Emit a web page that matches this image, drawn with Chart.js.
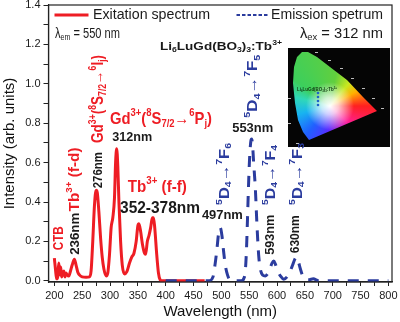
<!DOCTYPE html>
<html>
<head>
<meta charset="utf-8">
<script src="https://cdn.jsdelivr.net/npm/chart.js@4.4.1/dist/chart.umd.min.js"></script>
<style>
  html, body { margin: 0; padding: 0; background: #fff; }
</style>
</head>
<body>
<canvas id="myChart" width="400" height="322"></canvas>
<script>
// excitation spectrum, monitored at 550 nm
var excWavelength = [200, 202, 204, 206, 208, 210, 211.5, 213, 215, 217, 219, 221, 223, 226, 229, 232, 236, 239, 242, 245, 250, 257, 263, 266, 269, 272, 275, 277, 280, 283, 286, 289, 293, 296, 299, 302, 305, 308, 310, 312, 314, 316, 319, 322, 326, 330, 335, 339, 343, 347, 350, 352, 355, 358, 362, 364, 367, 370, 373, 376, 378, 380, 384, 387, 390, 393, 470];
var excIntensity = [0.115, 0.06, 0.01, 0.02, 0.09, 0.03, 0.07, 0.02, 0.035, 0.05, 0.02, 0.04, 0.03, 0.025, 0.05, 0.08, 0.11, 0.08, 0.045, 0.03, 0.02, 0.018, 0.02, 0.05, 0.2, 0.38, 0.46, 0.45, 0.35, 0.22, 0.12, 0.06, 0.025, 0.04, 0.13, 0.27, 0.32, 0.42, 0.6, 0.67, 0.58, 0.4, 0.2, 0.08, 0.035, 0.045, 0.09, 0.12, 0.14, 0.2, 0.28, 0.29, 0.25, 0.19, 0.14, 0.135, 0.2, 0.23, 0.27, 0.32, 0.32, 0.28, 0.13, 0.04, 0.005, 0, 0];

// emission spectrum, excited at 312 nm
var emWavelength = [400, 478, 485, 489, 492, 495, 498, 501, 504, 507, 511, 515, 520, 536, 540, 543, 545, 547, 549, 551, 553, 554.5, 556, 558, 561, 564, 567, 570, 574, 579, 583, 587, 591, 594, 597, 601, 606, 612, 618, 623, 628, 632, 635, 638, 642, 646, 651, 658, 665, 675, 800];
var emIntensity = [0, 0, 0.02, 0.09, 0.16, 0.24, 0.27, 0.23, 0.15, 0.08, 0.03, 0.005, 0, 0, 0.01, 0.05, 0.15, 0.32, 0.5, 0.64, 0.71, 0.72, 0.69, 0.6, 0.47, 0.28, 0.13, 0.06, 0.03, 0.025, 0.035, 0.06, 0.09, 0.1, 0.085, 0.05, 0.025, 0.008, 0.02, 0.045, 0.08, 0.11, 0.12, 0.1, 0.06, 0.025, 0.008, 0.006, 0.01, 0, 0];

// axis ticks (every value gets a tick mark, labels on the round ones)
var xTicks = [200, 225, 250, 275, 300, 325, 350, 375, 400, 425, 450, 475, 500, 525, 550, 575, 600, 625, 650, 675, 700, 725, 750, 775, 800];
var yTicks = [0, 0.1, 0.2, 0.3, 0.4, 0.5, 0.6, 0.7, 0.8, 0.9, 1.0, 1.1, 1.2, 1.3, 1.4];

var RED = '#ee1d24';
var BLUE = '#2b3c9e';
var INK = '#1a1a1a';
var FONT = "'Liberation Sans', Arial, sans-serif";

function toPoints(xs, ys) {
  return xs.map(function (x, i) { return { x: x, y: ys[i] }; });
}

// peak assignments: x in nm, y in intensity units.
// horizontal labels are anchored at their left end, vertical ones at their bottom end.
// size = glyph height, len = length along the text in px
var peakLabels = [
  { text: 'CTB', color: RED, x: 208, y: 0.155, rot: true, size: 14, len: 24 },
  { text: '236nm', color: INK, x: 237.5, y: 0.132, rot: true, size: 13, len: 42 },
  { text: 'Tb^{3+} (f-d)', color: RED, x: 236.5, y: 0.352, rot: true, size: 15, len: 64 },
  { text: '276nm', color: INK, x: 278.5, y: 0.47, rot: true, size: 13, len: 36 },
  { text: 'Gd^{3+}(^{8}S_{7/2}\u2192^{6}I_{j})', color: RED, x: 279.5, y: 0.70, rot: true, size: 16, len: 88 },
  { text: 'Gd^{3+}(^{8}S_{7/2}\u2192^{6}P_{j})', color: RED, x: 300, y: 0.82, size: 17, len: 102 },
  { text: '312nm', color: INK, x: 304, y: 0.73, size: 13, len: 40 },
  { text: 'Tb^{3+} (f-f)', color: RED, x: 332, y: 0.475, size: 17, len: 59 },
  { text: '352-378nm', color: INK, x: 318, y: 0.37, size: 17, len: 80 },
  { text: '497nm', color: INK, x: 465, y: 0.33, size: 13, len: 41 },
  { text: '^{5}D_{4}\u2192^{7}F_{6}', color: BLUE, x: 506, y: 0.385, rot: true, size: 15, len: 62 },
  { text: '553nm', color: INK, x: 519.5, y: 0.775, size: 13, len: 41 },
  { text: '^{5}D_{4}\u2192^{7}F_{5}', color: BLUE, x: 557, y: 0.828, rot: true, size: 15, len: 63 },
  { text: '^{5}D_{4}\u2192^{7}F_{4}', color: BLUE, x: 589, y: 0.385, rot: true, size: 15, len: 60 },
  { text: '593nm', color: INK, x: 588, y: 0.132, rot: true, size: 13, len: 40 },
  { text: '^{5}D_{4}\u2192^{7}F_{3}', color: BLUE, x: 637, y: 0.385, rot: true, size: 15, len: 62 },
  { text: '630nm', color: INK, x: 633, y: 0.14, rot: true, size: 13, len: 38 }
];

// "Gd^{3+}" -> [{t:'Gd', m:''}, {t:'3+', m:'^'}]
function parseRich(str) {
  var segs = [], re = /([\^_])\{([^}]*)\}|([^\^_]+)/g, m;
  while ((m = re.exec(str))) {
    if (m[1]) segs.push({ t: m[2], m: m[1] });
    else segs.push({ t: m[3], m: '' });
  }
  return segs;
}

function drawRich(ctx, str, x, y, o) {
  var segs = parseRich(str);
  var weight = o.bold === false ? '' : 'bold ';
  var total = 0;
  segs.forEach(function (s) {
    s.size = s.m ? o.size * 0.64 : o.size;
    s.dy = s.m === '^' ? -o.size * 0.36 : (s.m === '_' ? o.size * 0.26 : 0);
    ctx.font = weight + s.size + 'px ' + FONT;
    s.w = ctx.measureText(s.t).width;
    total += s.w;
  });
  var k = o.len ? o.len / total : 1;
  ctx.save();
  ctx.translate(x, y);
  if (o.rot) ctx.rotate(-Math.PI / 2);
  ctx.scale(k, 1);
  ctx.fillStyle = o.color;
  ctx.textBaseline = 'middle';
  ctx.textAlign = 'left';
  var cx = 0;
  segs.forEach(function (s) {
    ctx.font = weight + s.size + 'px ' + FONT;
    ctx.fillText(s.t, cx, s.dy);
    cx += s.w;
  });
  ctx.restore();
}

// small CIE chromaticity diagram in the upper right corner
function drawCie(ctx, x0, y0, w, h) {
  ctx.save();
  ctx.fillStyle = '#050505';
  ctx.fillRect(x0, y0, w, h);
  var edge = [[21, 92], [15, 84], [10, 72], [7, 55], [5, 35], [6, 19], [9, 9], [14, 4], [20, 4],
              [29, 9], [42, 19], [59, 32], [75, 49], [89, 63]];
  ctx.beginPath();
  edge.forEach(function (p, i) {
    if (i === 0) ctx.moveTo(x0 + p[0], y0 + p[1]);
    else ctx.lineTo(x0 + p[0], y0 + p[1]);
  });
  ctx.closePath();
  ctx.save();
  ctx.clip();
  var wx = x0 + 42, wy = y0 + 58;
  var g = ctx.createConicGradient(0, wx, wy);
  g.addColorStop(0.00, '#ff2020');
  g.addColorStop(0.12, '#ff1f9c');
  g.addColorStop(0.26, '#5a2cff');
  g.addColorStop(0.36, '#2060ff');
  g.addColorStop(0.46, '#18b4f0');
  g.addColorStop(0.54, '#30d8b8');
  g.addColorStop(0.60, '#3ccf5c');
  g.addColorStop(0.78, '#62cf3e');
  g.addColorStop(0.86, '#c8e820');
  g.addColorStop(0.92, '#ffb000');
  g.addColorStop(1.00, '#ff2020');
  ctx.fillStyle = g;
  ctx.fillRect(x0, y0, w, h);
  var r = ctx.createRadialGradient(wx, wy, 0, wx, wy, 24);
  r.addColorStop(0, 'rgba(255,255,255,1)');
  r.addColorStop(0.35, 'rgba(255,255,255,0.75)');
  r.addColorStop(1, 'rgba(255,255,255,0)');
  ctx.fillStyle = r;
  ctx.fillRect(x0, y0, w, h);
  ctx.restore();

  // wavelength marks along the spectral locus
  ctx.fillStyle = '#bbb';
  [[27, 4], [40, 12], [52, 20], [63, 30], [74, 40], [84, 50], [93, 60], [0, 50], [0, 75], [8, 95]].forEach(function (p) {
    ctx.fillRect(x0 + p[0], y0 + p[1], 3, 1);
  });

  // colour coordinates of the phosphor series
  ctx.fillStyle = '#1e62c8';
  [45, 49, 53, 57].forEach(function (yy) {
    ctx.beginPath();
    ctx.arc(x0 + 30, y0 + yy, 1.3, 0, Math.PI * 2);
    ctx.fill();
  });
  drawRich(ctx, 'Li_{6}LuGd(BO_{3})_{3}:Tb^{3+}', x0 + 9, y0 + 42, { color: '#123a12', size: 4.5, len: 40 });
  ctx.restore();
}

var overlay = {
  id: 'overlay',
  afterDraw: function (chart) {
    var ctx = chart.ctx, a = chart.chartArea;
    var xs = chart.scales.x, ys = chart.scales.y;

    // closed frame
    ctx.save();
    ctx.strokeStyle = '#222';
    ctx.lineWidth = 1.2;
    ctx.strokeRect(a.left, a.top, a.right - a.left, a.bottom - a.top);
    ctx.restore();

    drawCie(ctx, a.right - 104, a.top + 43, 102, 99);

    // legend
    ctx.save();
    ctx.strokeStyle = RED;
    ctx.lineWidth = 3;
    ctx.beginPath();
    ctx.moveTo(a.left + 6, a.top + 10);
    ctx.lineTo(a.left + 40, a.top + 10);
    ctx.stroke();
    ctx.strokeStyle = BLUE;
    ctx.lineWidth = 2;
    ctx.setLineDash([3.5, 2]);
    ctx.beginPath();
    ctx.moveTo(a.left + 188, a.top + 10);
    ctx.lineTo(a.left + 220, a.top + 10);
    ctx.stroke();
    ctx.restore();
    drawRich(ctx, 'Exitation spectrum', a.left + 44.5, a.top + 10, { color: INK, size: 14, len: 117, bold: false });
    drawRich(ctx, 'Emission spetrum', a.left + 222.5, a.top + 10, { color: INK, size: 14, len: 112, bold: false });
    drawRich(ctx, '\u03bb_{em} = 550 nm', a.left + 6.5, a.top + 29, { color: INK, size: 14, len: 65, bold: false });
    drawRich(ctx, '\u03bb_{ex} = 312 nm', a.left + 251.5, a.top + 29, { color: INK, size: 14, len: 83, bold: false });
    drawRich(ctx, 'Li_{6}LuGd(BO_{3})_{3}:Tb^{3+}', a.left + 111.5, a.top + 42, { color: INK, size: 11, len: 122 });

    peakLabels.forEach(function (lb) {
      drawRich(ctx, lb.text, xs.getPixelForValue(lb.x), ys.getPixelForValue(lb.y), lb);
    });
  }
};

var tickFont = { family: FONT, size: 11 };

var ctx = document.getElementById('myChart').getContext('2d');
var myChart = new Chart(ctx, {
  type: 'line',
  data: {
    datasets: [{
      label: 'Emission spetrum',
      data: toPoints(emWavelength, emIntensity),
      borderColor: BLUE,
      borderWidth: 3,
      borderDash: [11, 9],
      pointRadius: 0,
      cubicInterpolationMode: 'monotone',
      order: 0
    }, {
      label: 'Exitation spectrum',
      data: toPoints(excWavelength, excIntensity),
      borderColor: RED,
      borderWidth: 3,
      borderJoinStyle: 'round',
      pointRadius: 0,
      cubicInterpolationMode: 'monotone',
      order: 1
    }]
  },
  options: {
    responsive: false,
    animation: false,
    events: [],
    layout: { padding: { top: 5, right: 8, left: 0, bottom: 0 } },
    scales: {
      x: {
        type: 'linear',
        min: 189.5,
        max: 806.5,
        afterBuildTicks: function (s) { s.ticks = xTicks.map(function (v) { return { value: v }; }); },
        afterFit: function (s) { s.height = 40; s.paddingLeft = 0; s.paddingRight = 0; },
        ticks: {
          autoSkip: false, maxRotation: 0, padding: 3, color: '#1a1a1a', font: tickFont,
          callback: function (v) { return v % 50 === 0 ? String(v) : ''; }
        },
        grid: { drawOnChartArea: false, tickLength: 4, color: '#222', lineWidth: 1 },
        border: { color: '#222', width: 1.2 },
        title: { display: true, text: 'Wavelength (nm)', color: '#111', font: { family: FONT, size: 15 }, padding: { top: 0, bottom: 1 } }
      },
      y: {
        min: -0.006,
        max: 1.4,
        afterBuildTicks: function (s) { s.ticks = yTicks.map(function (v) { return { value: v }; }); },
        afterFit: function (s) { s.width = 48.5; s.paddingTop = 0; s.paddingBottom = 0; },
        ticks: {
          autoSkip: false, padding: 3, color: '#1a1a1a', font: tickFont,
          callback: function (v) { return Math.round(v * 10) % 2 === 0 ? v.toFixed(1) : ''; }
        },
        grid: { drawOnChartArea: false, tickLength: 5, color: '#222', lineWidth: 1 },
        border: { color: '#222', width: 1.2 },
        title: { display: true, text: 'Intensity (arb. units)', color: '#111', font: { family: FONT, size: 15 }, padding: { top: 1, bottom: 0 } }
      }
    },
    plugins: {
      legend: { display: false },
      tooltip: { enabled: false }
    }
  },
  plugins: [overlay]
});
</script>
</body>
</html>
